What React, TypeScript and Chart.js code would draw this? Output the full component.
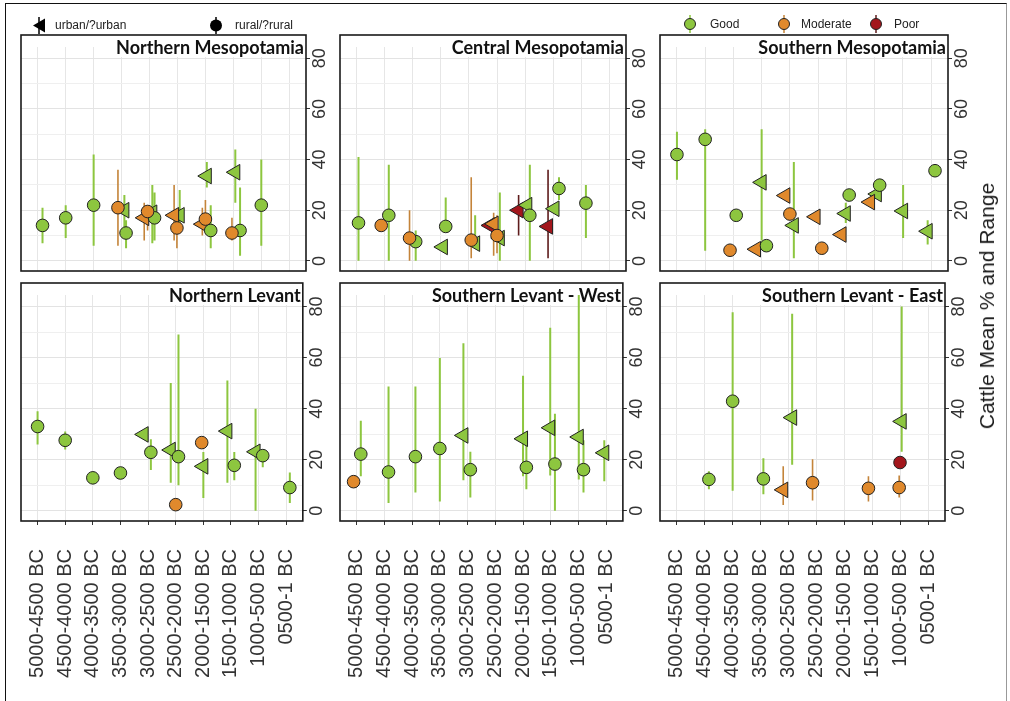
import React, { useEffect, useRef } from 'react';
import { Chart, registerables } from 'chart.js';

Chart.register(...registerables);

// ---------------- DATA ----------------
const periods = [
  '5000-4500 BC', '4500-4000 BC', '4000-3500 BC', '3500-3000 BC', '3000-2500 BC',
  '2500-2000 BC', '2000-1500 BC', '1500-1000 BC', '1000-500 BC', '0500-1 BC',
];
const yAxisTicks = [0, 20, 40, 60, 80];
const qualityLevels = ['Good', 'Moderate', 'Poor'];
const settlementLegend = ['urban/?urban', 'rural/?rural'];
const regionTitles = [
  'Northern Mesopotamia', 'Central Mesopotamia', 'Southern Mesopotamia',
  'Northern Levant', 'Southern Levant - West', 'Southern Levant - East',
];
const yTitle = 'Cattle Mean % and Range';

type Obs = [string, number, number | null, number | null, string, string];
// [period, mean %, range low, range high, quality, settlement]

const northernMesopotamia: Obs[] = [
  ['5000-4500 BC', 14, 7, 21, 'Good', 'rural'],
  ['4500-4000 BC', 17, 9, 22, 'Good', 'rural'],
  ['4000-3500 BC', 22, 6, 42, 'Good', 'rural'],
  ['3500-3000 BC', 21, 6, 36, 'Moderate', 'rural'],
  ['3500-3000 BC', 20, 12, 26, 'Good', 'urban'],
  ['3500-3000 BC', 11, 5, 16, 'Good', 'rural'],
  ['3000-2500 BC', 17, 8, 23, 'Moderate', 'urban'],
  ['3000-2500 BC', 19.5, 12, 22, 'Moderate', 'rural'],
  ['3000-2500 BC', 19, 7, 30, 'Good', 'urban'],
  ['3000-2500 BC', 17, 8, 27, 'Good', 'rural'],
  ['2500-2000 BC', 18, 8, 30, 'Moderate', 'urban'],
  ['2500-2000 BC', 18, 13, 28, 'Good', 'urban'],
  ['2500-2000 BC', 13, 5, 17, 'Moderate', 'rural'],
  ['2000-1500 BC', 33.5, 29, 39, 'Good', 'urban'],
  ['2000-1500 BC', 14.5, 10, 21, 'Moderate', 'urban'],
  ['2000-1500 BC', 16.5, 12, 24, 'Moderate', 'rural'],
  ['2000-1500 BC', 12, 5, 22, 'Good', 'rural'],
  ['1500-1000 BC', 35, 23, 44, 'Good', 'urban'],
  ['1500-1000 BC', 11, 8, 17, 'Moderate', 'rural'],
  ['1500-1000 BC', 12, 2, 29, 'Good', 'rural'],
  ['1000-500 BC', 22, 6, 40, 'Good', 'rural'],
];
const northernMesopotamiaDodge = [0.17, 0, 0, -0.13, 0.1, 0.16, -0.19, -0.07, 0.1, 0.18, -0.12, 0.08, -0.02, 0.05, -0.11, 0, 0.19, 0.07, -0.05, 0.24, 0];

const centralMesopotamia: Obs[] = [
  ['5000-4500 BC', 15, 0, 41, 'Good', 'rural'],
  ['4500-4000 BC', 14, null, null, 'Moderate', 'rural'],
  ['4500-4000 BC', 18, 0, 38, 'Good', 'rural'],
  ['4000-3500 BC', 9, 0, 20, 'Moderate', 'rural'],
  ['4000-3500 BC', 7.6, 0, 12, 'Good', 'rural'],
  ['3500-3000 BC', 5.5, null, null, 'Good', 'urban'],
  ['3500-3000 BC', 13.6, 12, 25, 'Good', 'rural'],
  ['3000-2500 BC', 8.2, 1, 33, 'Moderate', 'rural'],
  ['3000-2500 BC', 6.8, 5, 18, 'Good', 'urban'],
  ['2500-2000 BC', 14, null, null, 'Poor', 'urban'],
  ['2500-2000 BC', 14.6, 2, 19, 'Moderate', 'urban'],
  ['2500-2000 BC', 10, 3, 18, 'Moderate', 'rural'],
  ['2500-2000 BC', 9, 0, 27, 'Good', 'urban'],
  ['2000-1500 BC', 20, 10, 26, 'Poor', 'urban'],
  ['2000-1500 BC', 22, null, null, 'Good', 'urban'],
  ['2000-1500 BC', 18, 0, 38, 'Good', 'rural'],
  ['1500-1000 BC', 13.6, 1, 36, 'Poor', 'urban'],
  ['1500-1000 BC', 20.6, null, null, 'Good', 'urban'],
  ['1500-1000 BC', 28.6, 24, 33, 'Good', 'rural'],
  ['1000-500 BC', 22.8, 9, 30, 'Good', 'rural'],
];
const centralMesopotamiaDodge = [0.06, -0.13, 0.14, -0.12, 0.1, 0.07, 0.17, 0.08, 0.22, -0.25, -0.12, 0, 0.1, -0.23, 0.08, 0.17, -0.18, 0.05, 0.21, 0.17];

const southernMesopotamia: Obs[] = [
  ['5000-4500 BC', 42, 32, 51, 'Good', 'rural'],
  ['4500-4000 BC', 48, 4, 52, 'Good', 'rural'],
  ['4000-3500 BC', 4.2, null, null, 'Moderate', 'rural'],
  ['4000-3500 BC', 18, null, null, 'Good', 'rural'],
  ['3500-3000 BC', 31, 8, 52, 'Good', 'urban'],
  ['3500-3000 BC', 4.6, null, null, 'Moderate', 'urban'],
  ['3500-3000 BC', 6, null, null, 'Good', 'rural'],
  ['3000-2500 BC', 25.8, null, null, 'Moderate', 'urban'],
  ['3000-2500 BC', 18.5, null, null, 'Moderate', 'rural'],
  ['3000-2500 BC', 14, 1, 39, 'Good', 'urban'],
  ['2500-2000 BC', 17.4, null, null, 'Moderate', 'urban'],
  ['2500-2000 BC', 5, null, null, 'Moderate', 'rural'],
  ['2000-1500 BC', 10.4, null, null, 'Moderate', 'urban'],
  ['2000-1500 BC', 18.7, 15, 23, 'Good', 'urban'],
  ['2000-1500 BC', 26, null, null, 'Good', 'rural'],
  ['1500-1000 BC', 23.2, null, null, 'Moderate', 'urban'],
  ['1500-1000 BC', 26.4, null, null, 'Good', 'urban'],
  ['1500-1000 BC', 29.9, null, null, 'Good', 'rural'],
  ['1000-500 BC', 19.7, 9, 30, 'Good', 'urban'],
  ['0500-1 BC', 11.7, 6.5, 16, 'Good', 'urban'],
  ['0500-1 BC', 35.6, null, null, 'Good', 'rural'],
];
const southernMesopotamiaDodge = [0, 0, -0.12, 0.1, 0, -0.2, 0.17, -0.16, 0, 0.14, -0.09, 0.13, -0.17, -0.02, 0.1, -0.16, 0.08, 0.18, 0.01, -0.12, 0.14];

const northernLevant: Obs[] = [
  ['5000-4500 BC', 33, 26, 39, 'Good', 'rural'],
  ['4500-4000 BC', 27.6, 24, 31, 'Good', 'rural'],
  ['4000-3500 BC', 12.9, null, null, 'Good', 'rural'],
  ['3500-3000 BC', 14.8, null, null, 'Good', 'rural'],
  ['3000-2500 BC', 29.9, null, null, 'Good', 'urban'],
  ['3000-2500 BC', 22.9, 16, 28, 'Good', 'rural'],
  ['2500-2000 BC', 23.8, 11, 50, 'Good', 'urban'],
  ['2500-2000 BC', 21.2, 10, 69, 'Good', 'rural'],
  ['2500-2000 BC', 2.4, null, null, 'Moderate', 'rural'],
  ['2000-1500 BC', 26.7, null, null, 'Moderate', 'rural'],
  ['2000-1500 BC', 17.4, 5, 23, 'Good', 'urban'],
  ['1500-1000 BC', 31.2, 11, 51, 'Good', 'urban'],
  ['1500-1000 BC', 17.8, 12, 23, 'Good', 'rural'],
  ['1000-500 BC', 23.1, 0, 40, 'Good', 'urban'],
  ['1000-500 BC', 21.6, 17, 23, 'Good', 'rural'],
  ['0500-1 BC', 9.1, 3, 15, 'Good', 'rural'],
];
const northernLevantDodge = [0, 0, 0, 0, -0.16, 0.1, -0.18, 0.1, 0, -0.06, 0, -0.13, 0.12, -0.11, 0.15, 0.13];

const southernLevantWest: Obs[] = [
  ['5000-4500 BC', 11.4, null, null, 'Moderate', 'rural'],
  ['5000-4500 BC', 22.2, 13.5, 35.3, 'Good', 'rural'],
  ['4500-4000 BC', 15.2, 3, 48.7, 'Good', 'rural'],
  ['4000-3500 BC', 21.2, 7.2, 48.7, 'Good', 'rural'],
  ['3500-3000 BC', 24.4, 3.6, 59.8, 'Good', 'rural'],
  ['3000-2500 BC', 29.5, 12, 65.6, 'Good', 'urban'],
  ['3000-2500 BC', 16.1, 5.2, 23.1, 'Good', 'rural'],
  ['2000-1500 BC', 28.2, 13.5, 52.9, 'Good', 'urban'],
  ['2000-1500 BC', 17, 8.4, 27, 'Good', 'rural'],
  ['1500-1000 BC', 32.5, 13.8, 71.7, 'Good', 'urban'],
  ['1500-1000 BC', 18.3, 0, 38, 'Good', 'rural'],
  ['1000-500 BC', 28.9, 12.3, 84.5, 'Good', 'urban'],
  ['1000-500 BC', 16.1, 7.2, 27.6, 'Good', 'rural'],
  ['0500-1 BC', 22.7, 11.6, 27.6, 'Good', 'urban'],
];
const southernLevantWestDodge = [-0.11, 0.15, 0.15, 0.12, 0, -0.15, 0.1, 0, 0.12, -0.02, 0.15, 0.01, 0.18, -0.07];

const southernLevantEast: Obs[] = [
  ['4500-4000 BC', 12.3, 8.4, 15.5, 'Good', 'rural'],
  ['4000-3500 BC', 42.9, 7.8, 77.7, 'Good', 'rural'],
  ['3500-3000 BC', 12.5, 6.5, 20.6, 'Good', 'rural'],
  ['3000-2500 BC', 8.2, 2.3, 17.4, 'Moderate', 'urban'],
  ['3000-2500 BC', 36.5, 18, 77.2, 'Good', 'urban'],
  ['2500-2000 BC', 11, 4, 20.2, 'Moderate', 'rural'],
  ['1500-1000 BC', 8.8, 3.6, 13.5, 'Moderate', 'rural'],
  ['1000-500 BC', 35, 23.1, 80, 'Good', 'urban'],
  ['1000-500 BC', 18.9, null, null, 'Poor', 'rural'],
  ['1000-500 BC', 9.1, 5.2, 13.8, 'Moderate', 'rural'],
];
const southernLevantEastDodge = [0.15, 0, 0.1, -0.19, 0.13, -0.14, -0.14, 0.05, -0.01, -0.04];

const panelData = [northernMesopotamia, centralMesopotamia, southernMesopotamia, northernLevant, southernLevantWest, southernLevantEast];
const panelDodge = [northernMesopotamiaDodge, centralMesopotamiaDodge, southernMesopotamiaDodge, northernLevantDodge, southernLevantWestDodge, southernLevantEastDodge];

// ---------------- STYLE / LAYOUT ----------------
const FONT = '"Liberation Sans", Arial, sans-serif';
const FILL: Record<string, string> = { Good: '#8DC63F', Moderate: '#E0892C', Poor: '#A3161C' };
const LINE: Record<string, string> = { Good: '#8DC63F', Moderate: '#C4843A', Poor: '#5E1C1C' };
const QUALITY_RANK: Record<string, number> = { Poor: 0, Good: 1, Moderate: 2 };

const COLS = [{ left: 21, right: 306 }, { left: 340, right: 626 }, { left: 660, right: 948 }];
const ROWS = [{ top: 35, bottom: 279 }, { top: 279, bottom: 521 }];
const PAD_L = 12;
const Y_W = 30;

function geometry(i: number) {
  const col = COLS[i % 3];
  const row = ROWS[Math.floor(i / 3)];
  const bottomRow = i >= 3;
  const canvasLeft = col.left - PAD_L;
  const canvasTop = bottomRow ? row.top - 6 : 5;
  const padTop = row.top - canvasTop;
  const xH = bottomRow ? 172 : 0;
  const padBottom = bottomRow ? 0 : 2;
  const width = col.right - canvasLeft + Y_W;
  const height = padTop + (row.bottom - row.top) + xH + padBottom;
  return { canvasLeft, canvasTop, padTop, xH, padBottom, width, height, bottomRow };
}

function drawTri(ctx: CanvasRenderingContext2D, x: number, y: number, r: number) {
  ctx.beginPath();
  ctx.moveTo(x - r, y);
  ctx.lineTo(x + r / 2, y - r * Math.sqrt(3) / 2);
  ctx.lineTo(x + r / 2, y + r * Math.sqrt(3) / 2);
  ctx.closePath();
}

function drawLegends(ctx: CanvasRenderingContext2D, i: number) {
  ctx.save();
  ctx.font = `12px ${FONT}`;
  ctx.textBaseline = 'middle';
  ctx.textAlign = 'left';
  if (i === 0) {
    const items = [{ x: 39, tx: 55, shape: 'tri' }, { x: 216, tx: 235, shape: 'circle' }];
    items.forEach((it, k) => {
      ctx.strokeStyle = '#000';
      ctx.lineWidth = 1.5;
      ctx.beginPath();
      ctx.moveTo(it.x, 17);
      ctx.lineTo(it.x, 34);
      ctx.stroke();
      ctx.fillStyle = '#000';
      if (it.shape === 'tri') {
        drawTri(ctx, it.x + 2, 25.5, 8);
      } else {
        ctx.beginPath();
        ctx.arc(it.x, 25.5, 6, 0, Math.PI * 2);
      }
      ctx.fill();
      ctx.fillStyle = '#222';
      ctx.fillText(settlementLegend[k], it.tx, 26);
    });
  }
  if (i === 2) {
    const xs = [690, 784, 876];
    const txs = [710, 801, 894];
    qualityLevels.forEach((q, k) => {
      ctx.strokeStyle = LINE[q];
      ctx.lineWidth = 1.5;
      ctx.beginPath();
      ctx.moveTo(xs[k], 15);
      ctx.lineTo(xs[k], 33);
      ctx.stroke();
      ctx.beginPath();
      ctx.arc(xs[k], 24, 5.5, 0, Math.PI * 2);
      ctx.fillStyle = FILL[q];
      ctx.fill();
      ctx.strokeStyle = '#222';
      ctx.lineWidth = 1;
      ctx.stroke();
      ctx.fillStyle = '#222';
      ctx.fillText(q, txs[k], 25);
    });
  }
  ctx.restore();
}

function Panel({ index }: { index: number }) {
  const ref = useRef<HTMLCanvasElement>(null);
  const g = geometry(index);
  useEffect(() => {
    if (!ref.current) return;
    const rows = panelData[index];
    const dodge = panelDodge[index];
    const pts = rows.map((r, k) => ({
      x: periods.indexOf(r[0]) + dodge[k],
      y: r[1], lo: r[2], hi: r[3], q: r[4], s: r[5],
    }));
    const ordered = [...pts].sort((a, b) =>
      (a.s === 'urban' ? 0 : 1) - (b.s === 'urban' ? 0 : 1) || QUALITY_RANK[a.q] - QUALITY_RANK[b.q]);

    const rangeSets = qualityLevels.map((q) => ({
      type: 'line' as const,
      label: q + ' range',
      data: pts.filter((p) => p.q === q && p.lo !== null).flatMap((p) => [
        { x: p.x, y: p.lo }, { x: p.x, y: p.hi }, { x: p.x, y: null },
      ]),
      borderColor: LINE[q],
      borderWidth: q === 'Good' ? 2 : 1.6,
      pointRadius: 0,
      spanGaps: false,
      fill: false,
      order: 2,
    }));

    const pointSet = {
      type: 'scatter' as const,
      label: 'means',
      data: ordered.map((p) => ({ x: p.x, y: p.y })),
      pointStyle: ordered.map((p) => (p.s === 'urban' ? 'triangle' : 'circle')),
      pointRadius: ordered.map((p) => (p.s === 'urban' ? 9 : 6.3)),
      pointRotation: ordered.map((p) => (p.s === 'urban' ? -90 : 0)),
      pointBackgroundColor: ordered.map((p) => FILL[p.q]),
      pointBorderColor: '#222',
      pointBorderWidth: 1,
      order: 1,
    };

    const title = regionTitles[index];
    const decor = {
      id: 'decor' + index,
      beforeDatasetsDraw(chart: any) {
        const { ctx, chartArea: a } = chart;
        ctx.save();
        ctx.fillStyle = '#fff';
        ctx.fillRect(a.left, a.top, a.right - a.left, 12);
        ctx.font = `bold 18px Lato, ${FONT}`;
        const w = ctx.measureText(title).width;
        ctx.fillRect(a.right - w - 6, a.top, w + 6, 22);
        ctx.fillStyle = '#111';
        ctx.textAlign = 'right';
        ctx.textBaseline = 'top';
        ctx.fillText(title, a.right - 2, a.top + 4);
        ctx.restore();
      },
      afterDatasetsDraw(chart: any) {
        const { ctx, chartArea: a } = chart;
        ctx.save();
        ctx.strokeStyle = '#1a1a1a';
        ctx.lineWidth = 1.6;
        ctx.strokeRect(a.left, a.top, a.right - a.left, a.bottom - a.top);
        ctx.restore();
      },
      afterDraw(chart: any) {
        const { ctx, chartArea: a } = chart;
        const ys = chart.scales.y;
        ctx.save();
        ctx.font = `18px ${FONT}`;
        ctx.fillStyle = '#333';
        ctx.textAlign = 'center';
        ctx.textBaseline = 'top';
        yAxisTicks.forEach((v) => {
          const py = ys.getPixelForValue(v);
          ctx.save();
          ctx.translate(a.right + 5, py);
          ctx.rotate(-Math.PI / 2);
          ctx.fillText(String(v), 0, 0);
          ctx.restore();
        });
        ctx.restore();
        if (index === 0 || index === 2) {
          ctx.save();
          ctx.translate(-g.canvasLeft, -g.canvasTop);
          drawLegends(ctx, index);
          ctx.restore();
        }
      },
    };

    const chart = new Chart(ref.current, {
      type: 'scatter',
      data: { datasets: [pointSet as any, ...(rangeSets as any)] },
      options: {
        animation: false,
        responsive: false,
        devicePixelRatio: 1,
        events: [],
        layout: { padding: { left: PAD_L, top: g.padTop, right: 0, bottom: g.padBottom } },
        plugins: { legend: { display: false }, tooltip: { enabled: false } },
        scales: {
          x: {
            type: 'linear',
            min: -0.6,
            max: 9.6,
            afterFit: (s: any) => { s.height = g.xH; },
            border: { display: false },
            grid: {
              color: '#E6E6E6',
              lineWidth: 1,
              drawTicks: g.bottomRow,
              tickLength: 4,
              tickColor: '#333',
            },
            ticks: {
              display: g.bottomRow,
              stepSize: 1,
              autoSkip: false,
              includeBounds: false,
              minRotation: 90,
              maxRotation: 90,
              padding: 24,
              color: '#333',
              font: { family: FONT, size: 20 },
              callback: (v: any) => (Number.isInteger(v) ? periods[v] : ''),
            },
          },
          y: {
            type: 'linear',
            position: 'right',
            min: -4,
            max: 89.2,
            afterFit: (s: any) => { s.width = Y_W; },
            border: { display: false },
            grid: {
              color: (c: any) => (c.tick && c.tick.value % 20 === 0 ? '#E3E3E3' : '#EFEFEF'),
              lineWidth: 1,
              drawTicks: true,
              tickLength: 4,
              tickColor: (c: any) => (c.tick && c.tick.value % 20 === 0 ? '#333' : 'rgba(0,0,0,0)'),
            },
            ticks: { display: false, stepSize: 10, includeBounds: false },
          },
        },
      } as any,
      plugins: [decor],
    });
    return () => chart.destroy();
  }, [index]);

  return (
    <canvas
      ref={ref}
      width={g.width}
      height={g.height}
      style={{ position: 'absolute', left: g.canvasLeft, top: g.canvasTop, width: g.width, height: g.height }}
    />
  );
}

export default function App() {
  return (
    <div style={{ position: 'fixed', left: 0, top: 0, width: 1010, height: 701, background: '#fff', overflow: 'hidden' }}>
      <div style={{ position: 'absolute', left: 5, top: 3, width: 1000, height: 720, borderLeft: '1.5px solid #111', borderTop: '1.5px solid #111', borderRight: '1px solid #999' }} />
      {regionTitles.map((_, i) => <Panel key={i} index={i} />)}
      <div style={{
        position: 'absolute', left: 987, top: 306, transform: 'translate(-50%, -50%) rotate(-90deg)',
        whiteSpace: 'nowrap', font: `21px ${FONT}`, color: '#1a1a1a',
      }}>{yTitle}</div>
    </div>
  );
}
